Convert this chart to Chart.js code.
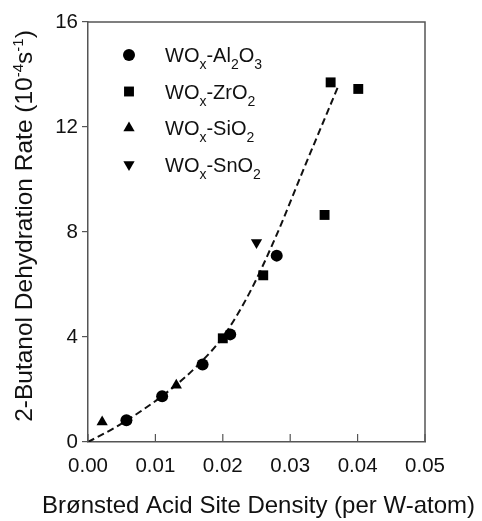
<!DOCTYPE html>
<html><head><meta charset="utf-8">
<script src="https://cdn.jsdelivr.net/npm/chart.js@4.4.1/dist/chart.umd.min.js"></script>
<style>html,body{margin:0;padding:0;background:#fff}canvas{display:block}</style>
</head><body>
<canvas id="c" width="482" height="521"></canvas>
<script>
// ---- data ----
const al2o3X = [0.0057, 0.0110, 0.0170, 0.0211, 0.0280];
const al2o3Y = [0.83, 1.74, 2.95, 4.10, 7.10];
const zro2X = [0.0200, 0.0260, 0.0351, 0.0360, 0.0401];
const zro2Y = [3.95, 6.35, 8.65, 13.70, 13.45];
const sio2X = [0.0021, 0.0131];
const sio2Y = [0.76, 2.16];
const sno2X = [0.0250];
const sno2Y = [7.60];
const fitX = [0, 0.004, 0.008, 0.012, 0.016, 0.020, 0.024, 0.028, 0.032, 0.0372];
const fitY = [0, 0.55, 1.20, 1.95, 2.85, 4.00, 5.70, 7.90, 10.40, 13.60];
const xTicks = [0, 0.01, 0.02, 0.03, 0.04, 0.05];
const yTicks = [0, 4, 8, 12, 16];
const xTitle = 'Brønsted Acid Site Density (per W-atom)';
// y title parts: [text, 'n' normal | 'sup']
const yTitleParts = [['2-Butanol Dehydration Rate (10','n'],['-4','sup'],['s','n'],['-1','sup'],[')','n']];
// legend labels: [text, 'n' | 'sub']
const legendLabels = [
  [['WO','n'],['x','sub'],['-Al','n'],['2','sub'],['O','n'],['3','sub']],
  [['WO','n'],['x','sub'],['-ZrO','n'],['2','sub']],
  [['WO','n'],['x','sub'],['-SiO','n'],['2','sub']],
  [['WO','n'],['x','sub'],['-SnO','n'],['2','sub']]
];
const seriesNames = ['WOx-Al2O3','WOx-ZrO2','WOx-SiO2','WOx-SnO2'];

const FONT = 'Arial, "Liberation Sans", Helvetica, sans-serif';
const INK = '#111';
const AXIS = '#555';
const pts = (xs, ys) => xs.map((x, i) => ({x, y: ys[i]}));

const markerStyles = [
  {pointStyle: 'circle', radius: 6, rotation: 0},
  {pointStyle: 'rect', radius: 7, rotation: 0},
  {pointStyle: 'triangle', radius: 6.5, rotation: 0},
  {pointStyle: 'triangle', radius: 6.5, rotation: 180}
];

function mkSeries(i, xs, ys) {
  const m = markerStyles[i];
  return {label: seriesNames[i], data: pts(xs, ys), pointStyle: m.pointStyle, pointRadius: m.radius,
    rotation: m.rotation, backgroundColor: '#000', borderColor: '#000', borderWidth: 0, showLine: false, order: 1};
}

const framePlugin = {
  id: 'frame',
  afterDraw(chart) {
    const {ctx, chartArea: a, scales} = chart;
    ctx.save();
    ctx.strokeStyle = AXIS; ctx.lineWidth = 1.5;
    ctx.beginPath();
    ctx.moveTo(a.left, a.top); ctx.lineTo(a.right, a.top); ctx.lineTo(a.right, a.bottom);
    ctx.stroke();
    // inward ticks on x axis
    ctx.lineWidth = 1.2;
    scales.x.ticks.forEach((t, i) => {
      const px = scales.x.getPixelForTick(i);
      ctx.beginPath(); ctx.moveTo(px, a.bottom); ctx.lineTo(px, a.bottom - 8); ctx.stroke();
    });
    // x title (drawn without width squeeze)
    ctx.fillStyle = INK;
    ctx.font = '24px ' + FONT;
    ctx.textAlign = 'center';
    ctx.textBaseline = 'middle';
    ctx.fillText(xTitle, (a.left + a.right) / 2 + 2, 506);
    ctx.textAlign = 'left';
    // y title with superscripts
    const big = 24.5, small = 15;
    ctx.textBaseline = 'alphabetic';
    let total = 0;
    yTitleParts.forEach(([t, k]) => { ctx.font = (k === 'sup' ? small : big) + 'px ' + FONT; total += ctx.measureText(t).width; });
    ctx.translate(32, (a.top + a.bottom) / 2 - 6);
    ctx.rotate(-Math.PI / 2);
    let u = -total / 2;
    yTitleParts.forEach(([t, k]) => {
      ctx.font = (k === 'sup' ? small : big) + 'px ' + FONT;
      ctx.fillText(t, u, k === 'sup' ? -9 : 0);
      u += ctx.measureText(t).width;
    });
    ctx.restore();
    // legend
    ctx.save();
    ctx.fillStyle = '#000'; ctx.strokeStyle = '#000';
    const lx = 129, ly0 = 55, dy = 36.5, tx = 165;
    legendLabels.forEach((parts, i) => {
      const y = ly0 + i * dy;
      const m = markerStyles[i];
      Chart.helpers.drawPoint(ctx, {pointStyle: m.pointStyle, radius: m.radius, rotation: m.rotation, borderWidth: 0}, lx, y);
      let x = tx;
      ctx.fillStyle = INK;
      ctx.textBaseline = 'alphabetic';
      parts.forEach(([t, k]) => {
        ctx.font = (k === 'sub' ? 14 : 20) + 'px ' + FONT;
        ctx.fillText(t, x, y + 7 + (k === 'sub' ? 7 : 0));
        x += ctx.measureText(t).width;
      });
      ctx.fillStyle = '#000';
    });
    ctx.restore();
  }
};

new Chart(document.getElementById('c'), {
  type: 'scatter',
  data: {
    datasets: [
      {label: 'fit', data: pts(fitX, fitY), showLine: true, borderColor: '#111', borderWidth: 2,
       borderDash: [7, 4], pointRadius: 0, cubicInterpolationMode: 'monotone', fill: false, order: 2},
      mkSeries(0, al2o3X, al2o3Y),
      mkSeries(1, zro2X, zro2Y),
      mkSeries(2, sio2X, sio2Y),
      mkSeries(3, sno2X, sno2Y)
    ]
  },
  options: {
    responsive: false, animation: false, devicePixelRatio: 1,
    layout: {padding: {left: 0, right: 57, top: 22, bottom: 0}},
    plugins: {legend: {display: false}, tooltip: {enabled: false}},
    scales: {
      x: {
        type: 'linear', min: 0, max: 0.05,
        afterBuildTicks: s => { s.ticks = xTicks.map(v => ({value: v})); },
        afterFit: s => { s.height = 79; },
        ticks: {callback: v => Number(v).toFixed(2), font: {family: FONT, size: 20.5}, color: INK, padding: 12, maxRotation: 0, autoSkip: false},
        grid: {drawOnChartArea: false, drawTicks: false, color: AXIS},
        border: {color: AXIS, width: 1.5},
        title: {display: false}
      },
      y: {
        type: 'linear', min: 0, max: 16,
        afterBuildTicks: s => { s.ticks = yTicks.map(v => ({value: v})); },
        afterFit: s => { s.width = 88; },
        ticks: {font: {family: FONT, size: 20.5}, color: INK, padding: 4},
        grid: {drawOnChartArea: false, tickLength: 6, color: AXIS, lineWidth: 1.2},
        border: {color: AXIS, width: 1.5}
      }
    }
  },
  plugins: [framePlugin]
});
</script>
</body></html>
